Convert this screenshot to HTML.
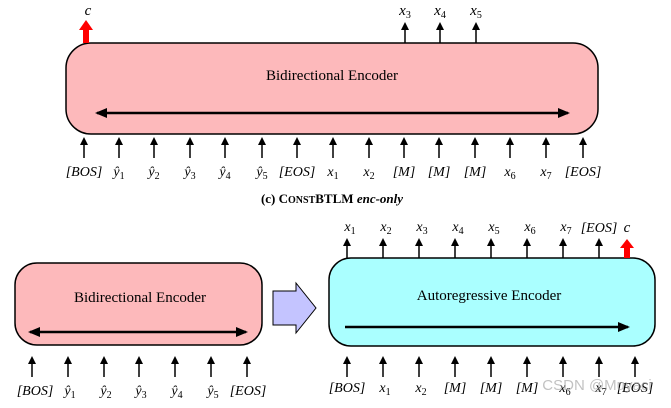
<!DOCTYPE html>
<html><head><meta charset="utf-8"><style>body{margin:0;background:#fff}</style></head><body>
<svg width="671" height="403" viewBox="0 0 671 403" xmlns="http://www.w3.org/2000/svg" font-family="Liberation Serif, serif">
<defs>
<marker id="a" markerWidth="8" markerHeight="8" refX="6" refY="4" orient="auto" markerUnits="userSpaceOnUse"><path d="M0,0 L8,4 L0,8 Z" fill="#000"/></marker>
<marker id="b" markerWidth="12" markerHeight="10" refX="10" refY="5" orient="auto-start-reverse" markerUnits="userSpaceOnUse"><path d="M0,0 L12,5 L0,10 Z" fill="#000"/></marker>
</defs>
<rect x="66" y="43" width="532" height="91" rx="25" fill="#fdb9bb" stroke="#000" stroke-width="1.5"/>
<text x="332" y="80" font-size="15" text-anchor="middle">Bidirectional Encoder</text>
<line x1="97" y1="113" x2="568" y2="113" stroke="#000" stroke-width="2.5" marker-start="url(#b)" marker-end="url(#b)"/>
<rect x="83" y="28" width="6" height="15" fill="#f00"/><path d="M79,30 L86,20 L93,30Z" fill="#f00"/>
<text x="88" y="15" font-size="15" font-style="italic" text-anchor="middle">c</text>
<g stroke="#000" stroke-width="1.5">
<line x1="405" y1="43" x2="405" y2="24" marker-end="url(#a)"/>
<line x1="440" y1="43" x2="440" y2="24" marker-end="url(#a)"/>
<line x1="476" y1="43" x2="476" y2="24" marker-end="url(#a)"/>
</g>
<g font-size="15" font-style="italic" text-anchor="middle">
<text x="405" y="15">x<tspan font-size="10" dy="3" font-style="normal">3</tspan></text>
<text x="440" y="15">x<tspan font-size="10" dy="3" font-style="normal">4</tspan></text>
<text x="476" y="15">x<tspan font-size="10" dy="3" font-style="normal">5</tspan></text>
</g>
<g stroke="#000" stroke-width="1.5">
<line x1="84" y1="158" x2="84" y2="139" marker-end="url(#a)"/>
<line x1="119" y1="158" x2="119" y2="139" marker-end="url(#a)"/>
<line x1="154" y1="158" x2="154" y2="139" marker-end="url(#a)"/>
<line x1="190" y1="158" x2="190" y2="139" marker-end="url(#a)"/>
<line x1="225" y1="158" x2="225" y2="139" marker-end="url(#a)"/>
<line x1="262" y1="158" x2="262" y2="139" marker-end="url(#a)"/>
<line x1="297" y1="158" x2="297" y2="139" marker-end="url(#a)"/>
<line x1="333" y1="158" x2="333" y2="139" marker-end="url(#a)"/>
<line x1="369" y1="158" x2="369" y2="139" marker-end="url(#a)"/>
<line x1="404" y1="158" x2="404" y2="139" marker-end="url(#a)"/>
<line x1="439" y1="158" x2="439" y2="139" marker-end="url(#a)"/>
<line x1="475" y1="158" x2="475" y2="139" marker-end="url(#a)"/>
<line x1="510" y1="158" x2="510" y2="139" marker-end="url(#a)"/>
<line x1="546" y1="158" x2="546" y2="139" marker-end="url(#a)"/>
<line x1="583" y1="158" x2="583" y2="139" marker-end="url(#a)"/>
</g>
<g font-size="14" font-style="italic" text-anchor="middle">
<text x="84" y="176">[BOS]</text>
<text x="119" y="176">ŷ<tspan font-size="10" dy="3" font-style="normal">1</tspan></text>
<text x="154" y="176">ŷ<tspan font-size="10" dy="3" font-style="normal">2</tspan></text>
<text x="190" y="176">ŷ<tspan font-size="10" dy="3" font-style="normal">3</tspan></text>
<text x="225" y="176">ŷ<tspan font-size="10" dy="3" font-style="normal">4</tspan></text>
<text x="262" y="176">ŷ<tspan font-size="10" dy="3" font-style="normal">5</tspan></text>
<text x="297" y="176">[EOS]</text>
<text x="333" y="176">x<tspan font-size="10" dy="3" font-style="normal">1</tspan></text>
<text x="369" y="176">x<tspan font-size="10" dy="3" font-style="normal">2</tspan></text>
<text x="404" y="176">[M]</text>
<text x="439" y="176">[M]</text>
<text x="475" y="176">[M]</text>
<text x="510" y="176">x<tspan font-size="10" dy="3" font-style="normal">6</tspan></text>
<text x="546" y="176">x<tspan font-size="10" dy="3" font-style="normal">7</tspan></text>
<text x="583" y="176">[EOS]</text>
</g>
<text x="332" y="203" font-size="13" font-weight="bold" text-anchor="middle">(c) C<tspan font-size="10">ONST</tspan>BTLM <tspan font-style="italic">enc-only</tspan></text>
<rect x="15" y="263" width="247" height="82" rx="22" fill="#fdb9bb" stroke="#000" stroke-width="1.5"/>
<text x="140" y="302" font-size="15" text-anchor="middle">Bidirectional Encoder</text>
<line x1="30" y1="332" x2="246" y2="332" stroke="#000" stroke-width="2.5" marker-start="url(#b)" marker-end="url(#b)"/>
<path d="M273,291 L296,291 L296,283 L316,308 L296,333 L296,325 L273,325 Z" fill="#c4c4ff" stroke="#000" stroke-width="1"/>
<rect x="329" y="258" width="326" height="88" rx="22" fill="#aaffff" stroke="#000" stroke-width="1.5"/>
<text x="489" y="300" font-size="15" text-anchor="middle">Autoregressive Encoder</text>
<line x1="345" y1="327" x2="628" y2="327" stroke="#000" stroke-width="2.5" marker-end="url(#b)"/>
<rect x="624" y="246" width="6" height="12" fill="#f00"/><path d="M620,248 L627,239 L634,248Z" fill="#f00"/>
<text x="627" y="232" font-size="15" font-style="italic" text-anchor="middle">c</text>
<g stroke="#000" stroke-width="1.5">
<line x1="347" y1="258" x2="347" y2="240" marker-end="url(#a)"/>
<line x1="383" y1="258" x2="383" y2="240" marker-end="url(#a)"/>
<line x1="419" y1="258" x2="419" y2="240" marker-end="url(#a)"/>
<line x1="455" y1="258" x2="455" y2="240" marker-end="url(#a)"/>
<line x1="491" y1="258" x2="491" y2="240" marker-end="url(#a)"/>
<line x1="527" y1="258" x2="527" y2="240" marker-end="url(#a)"/>
<line x1="563" y1="258" x2="563" y2="240" marker-end="url(#a)"/>
<line x1="599" y1="258" x2="599" y2="240" marker-end="url(#a)"/>
</g>
<g font-size="14" font-style="italic" text-anchor="middle">
<text x="350" y="231">x<tspan font-size="10" dy="3" font-style="normal">1</tspan></text>
<text x="386" y="231">x<tspan font-size="10" dy="3" font-style="normal">2</tspan></text>
<text x="422" y="231">x<tspan font-size="10" dy="3" font-style="normal">3</tspan></text>
<text x="458" y="231">x<tspan font-size="10" dy="3" font-style="normal">4</tspan></text>
<text x="494" y="231">x<tspan font-size="10" dy="3" font-style="normal">5</tspan></text>
<text x="530" y="231">x<tspan font-size="10" dy="3" font-style="normal">6</tspan></text>
<text x="566" y="231">x<tspan font-size="10" dy="3" font-style="normal">7</tspan></text>
<text x="599" y="232">[EOS]</text>
</g>
<g stroke="#000" stroke-width="1.5">
<line x1="32" y1="377" x2="32" y2="358" marker-end="url(#a)"/>
<line x1="68" y1="377" x2="68" y2="358" marker-end="url(#a)"/>
<line x1="104" y1="377" x2="104" y2="358" marker-end="url(#a)"/>
<line x1="139" y1="377" x2="139" y2="358" marker-end="url(#a)"/>
<line x1="175" y1="377" x2="175" y2="358" marker-end="url(#a)"/>
<line x1="211" y1="377" x2="211" y2="358" marker-end="url(#a)"/>
<line x1="247" y1="377" x2="247" y2="358" marker-end="url(#a)"/>
<line x1="347" y1="377" x2="347" y2="358" marker-end="url(#a)"/>
<line x1="383" y1="377" x2="383" y2="358" marker-end="url(#a)"/>
<line x1="419" y1="377" x2="419" y2="358" marker-end="url(#a)"/>
<line x1="455" y1="377" x2="455" y2="358" marker-end="url(#a)"/>
<line x1="491" y1="377" x2="491" y2="358" marker-end="url(#a)"/>
<line x1="527" y1="377" x2="527" y2="358" marker-end="url(#a)"/>
<line x1="563" y1="377" x2="563" y2="358" marker-end="url(#a)"/>
<line x1="599" y1="377" x2="599" y2="358" marker-end="url(#a)"/>
<line x1="635" y1="377" x2="635" y2="358" marker-end="url(#a)"/>
</g>
<g font-size="14" font-style="italic" text-anchor="middle">
<text x="35" y="395">[BOS]</text>
<text x="70" y="395">ŷ<tspan font-size="10" dy="3" font-style="normal">1</tspan></text>
<text x="106" y="395">ŷ<tspan font-size="10" dy="3" font-style="normal">2</tspan></text>
<text x="141" y="395">ŷ<tspan font-size="10" dy="3" font-style="normal">3</tspan></text>
<text x="177" y="395">ŷ<tspan font-size="10" dy="3" font-style="normal">4</tspan></text>
<text x="213" y="395">ŷ<tspan font-size="10" dy="3" font-style="normal">5</tspan></text>
<text x="248" y="395">[EOS]</text>
<text x="347" y="392">[BOS]</text>
<text x="385" y="392">x<tspan font-size="10" dy="3" font-style="normal">1</tspan></text>
<text x="421" y="392">x<tspan font-size="10" dy="3" font-style="normal">2</tspan></text>
<text x="455" y="392">[M]</text>
<text x="491" y="392">[M]</text>
<text x="527" y="392">[M]</text>
<text x="565" y="392">x<tspan font-size="10" dy="3" font-style="normal">6</tspan></text>
<text x="601" y="392">x<tspan font-size="10" dy="3" font-style="normal">7</tspan></text>
<text x="635" y="392">[EOS]</text>
</g>
<text x="597" y="390" font-size="15" font-family="Liberation Sans, sans-serif" fill="#999" fill-opacity="0.6" text-anchor="middle">CSDN @Muyaci</text>
</svg>
</body></html>
